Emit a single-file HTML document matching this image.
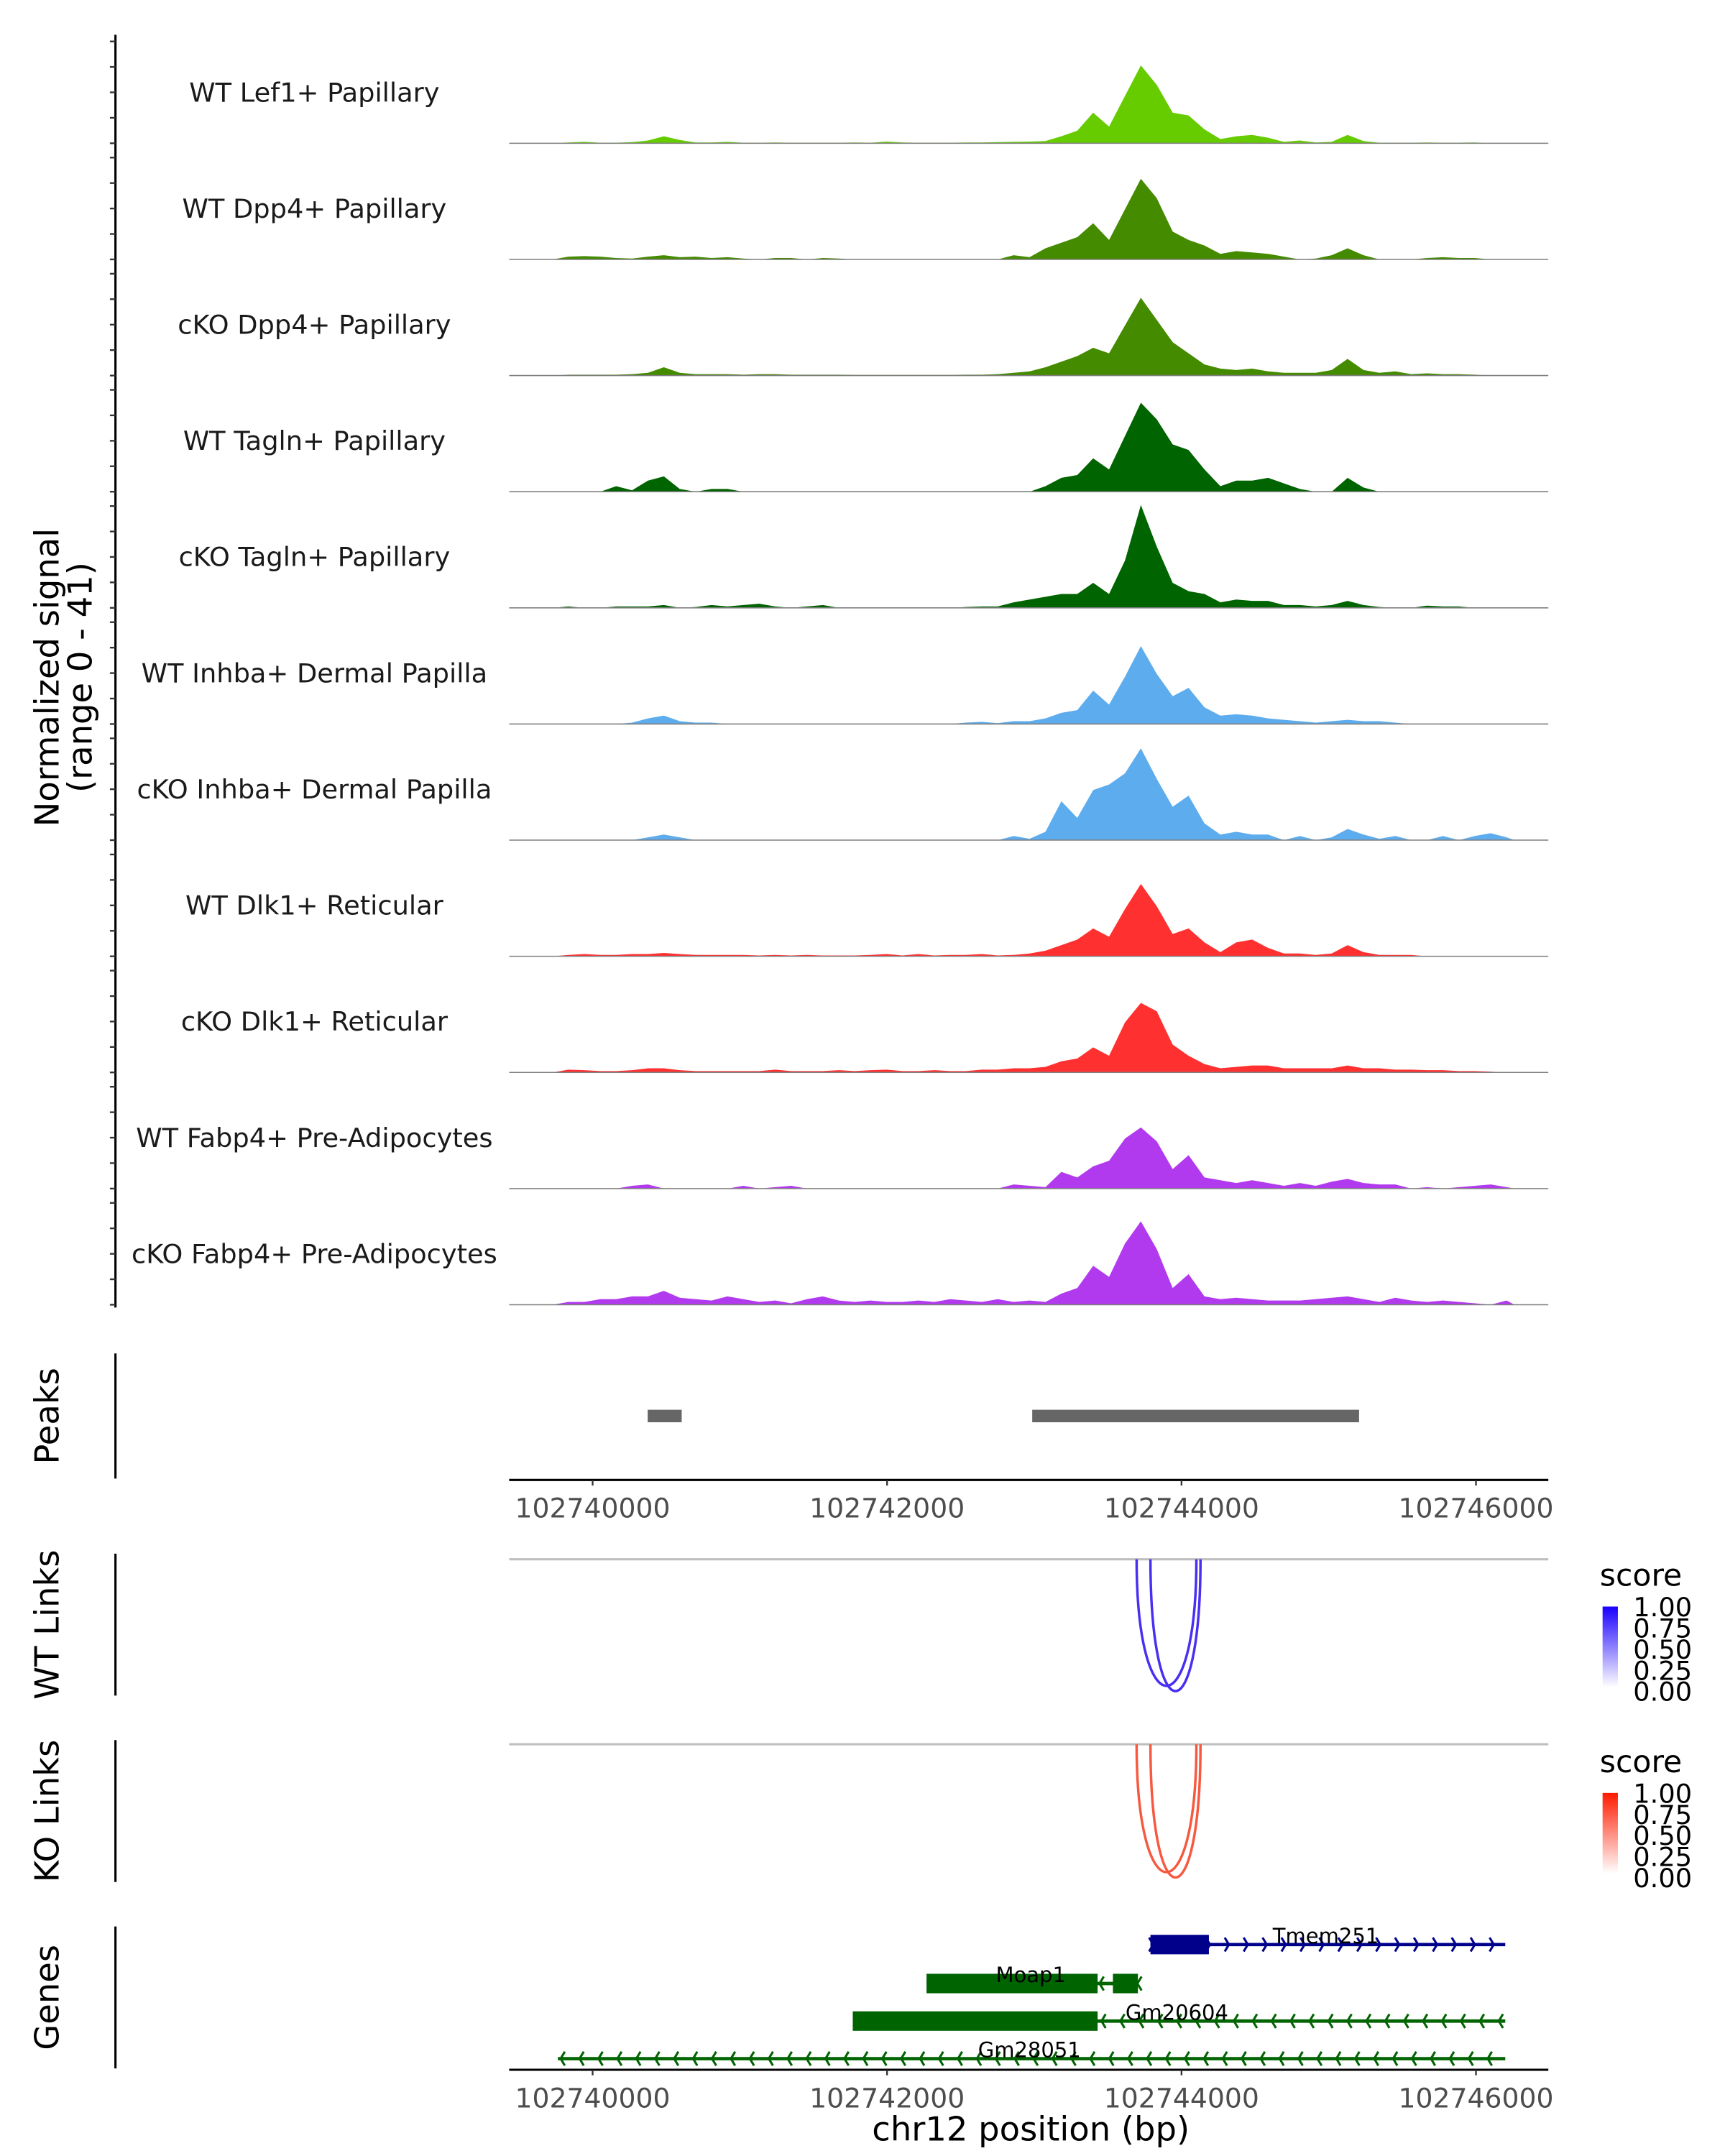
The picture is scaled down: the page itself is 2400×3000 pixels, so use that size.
<!DOCTYPE html>
<html><head><meta charset="utf-8">
<style>html,body{margin:0;padding:0;background:#fff}svg{display:block}text{font-family:"DejaVu Sans","Liberation Sans",sans-serif}</style>
</head><body>
<svg id="chart" xmlns="http://www.w3.org/2000/svg" width="2400" height="3000" viewBox="0 0 1240 1550">
<rect width="1240" height="1550" fill="#fff"/>
<g id="tracks"></g>
<g id="peaks"></g>
<g id="links"></g>
<g id="genes"></g>
<g id="axes"></g>
<text transform="translate(42,487) rotate(-90)" text-anchor="middle" font-size="24" fill="#000">Normalized signal</text>
<text transform="translate(66,487) rotate(-90)" text-anchor="middle" font-size="24" fill="#000">(range 0 - 41)</text>
<text transform="translate(42,1018) rotate(-90)" text-anchor="middle" font-size="24">Peaks</text>
<text transform="translate(42,1168) rotate(-90)" text-anchor="middle" font-size="24">WT Links</text>
<text transform="translate(42,1302) rotate(-90)" text-anchor="middle" font-size="24">KO Links</text>
<text transform="translate(42,1436) rotate(-90)" text-anchor="middle" font-size="24">Genes</text>
<text x="741" y="1539" text-anchor="middle" font-size="24">chr12 position (bp)</text>
</svg>
<script>
const NS="http://www.w3.org/2000/svg";
const binStart=102739242, binSize=108;
const trackNames=["WT Lef1+ Papillary","WT Dpp4+ Papillary","cKO Dpp4+ Papillary","WT Tagln+ Papillary","cKO Tagln+ Papillary","WT Inhba+ Dermal Papilla","cKO Inhba+ Dermal Papilla","WT Dlk1+ Reticular","cKO Dlk1+ Reticular","WT Fabp4+ Pre-Adipocytes","cKO Fabp4+ Pre-Adipocytes"];
const trackColors=["#66cc00","#458b00","#458b00","#006400","#006400","#5cacee","#5cacee","#ff3030","#ff3030","#b23aee","#b23aee"];
const lef1WT=[0,0,0,0,0,0.3,0.5,0.2,0.2,0.4,1,2.5,1.2,0.3,0.3,0.5,0.2,0.2,0.3,0.2,0.2,0.2,0.2,0.3,0.2,0.6,0.3,0.2,0.2,0.2,0.3,0.3,0.4,0.5,0.6,0.8,2.5,4.5,11,6,17,28,21,11,10,5,1.5,2.5,3,2,0.5,1,0.3,0.5,3,0.8,0.2,0.2,0.2,0.3,0.2,0.2,0.3,0,0];
const dpp4WT=[0,0,0,0,0,1,1.2,1,0.5,0.3,1,1.5,0.8,1,0.5,0.8,0.3,0,0.5,0.5,0,0.5,0.3,0,0,0,0,0,0,0,0,0,0,1.5,0.8,4,6,8,13,7,18,29,22,10,7,5,2,3,2.5,2,1,0,0.3,1.5,4,1.5,0,0,0,0.5,0.8,0.5,0.5,0,0];
const dpp4KO=[0,0,0,0,0,0.3,0.3,0.3,0.3,0.5,1,3,1,0.5,0.5,0.5,0.3,0.5,0.5,0.3,0.3,0.3,0.3,0.2,0.2,0.2,0.2,0.2,0.2,0.2,0.3,0.3,0.5,1,1.5,3,5,7,10,8,18,28,20,12,8,4,2.5,2,2.5,1.5,1,1,1,2,6,2,1,1.5,0.5,0.8,0.5,0.5,0.3,0,0];
const taglnWT=[0,0,0,0,0,0,0,0,2,0.5,4,5.5,1,0,1,1,0,0,0,0,0,0,0,0,0,0,0,0,0,0,0,0,0,0,0,2,5,6,12,8,20,32,26,17,15,8,2,4,4,5,3,1,0,0,5,1.5,0,0,0,0,0,0,0,0,0];
const taglnKO=[0,0,0,0,0,0.5,0,0,0.5,0.5,0.5,1,0,0.3,1,0.5,1,1.5,0.5,0,0.5,1,0,0,0,0,0,0,0,0,0.3,0.5,0.5,2,3,4,5,5,9,5,17,37,22,9,6,5,2,3,2.5,2.5,1,1,0.5,1,2.5,1,0.3,0,0,0.8,0.5,0.5,0,0,0];
const inhbaWT=[0,0,0,0,0,0,0,0,0,0.5,2,3,1,0.5,0.5,0,0,0,0,0,0,0,0,0,0,0,0,0,0,0,0.5,0.8,0.3,1,1,2,4,5,12,7,17,28,18,10,13,6,3,3.5,3,2,1.5,1,0.5,1,1.5,1,1,0.5,0,0,0,0,0,0,0];
const inhbaKO=[0,0,0,0,0,0,0,0,0,0,1,2,1,0,0,0,0,0,0,0,0,0,0,0,0,0,0,0,0,0,0,0,0,1.5,0.5,3,14,8,18,20,24,33,22,12,16,6,2,3,2,2,0,1.5,0,1,4,2,0.5,1.5,0,0,1.5,0,1.5,2.5,1];
const dlk1WT=[0,0,0,0,0,0.5,0.8,0.5,0.5,0.8,0.8,1.2,0.8,0.5,0.5,0.5,0.5,0.3,0.5,0.3,0.5,0.3,0.3,0.3,0.5,0.8,0.3,0.8,0.3,0.5,0.5,0.8,0.3,0.5,1,2,4,6,10,7,17,26,18,8,10,5,1.5,5,6,3,1,1,0.5,1,4,1.5,0.5,0.5,0.5,0,0,0,0,0,0];
const dlk1KO=[0,0,0,0,0,1,0.8,0.5,0.5,0.8,1.5,1.5,0.8,0.5,0.5,0.5,0.5,0.5,1,0.5,0.5,0.5,0.8,0.5,0.8,1,0.5,0.5,0.8,0.5,0.5,1,1,1.5,1.5,2,4,5,9,6,18,25,22,10,6,3,1.5,2,2.5,2.5,1.5,1.5,1.5,1.5,2.5,1.5,1.5,1,1,0.8,0.8,0.5,0.5,0.3,0];
const fabp4WT=[0,0,0,0,0,0,0,0,0,1,1.5,0,0,0,0,0,1,0,0.5,1,0,0,0,0,0,0,0,0,0,0,0,0,0,1.5,1,0.5,6,4,8,10,18,22,17,7,12,4,3,2,3,2,1,2,1,2.5,3.5,2,1.5,1.5,0,0.5,0,0.5,1,1.5,0.5];
const fabp4KO=[0,0,0,0,0,1,1,2,2,3,3,5,2.5,2,1.5,3,2,1,1.5,0.5,2,3,1.5,1,1.5,1,1,1.5,1,2,1.5,1,2,1,1.5,1,4,6,14,10,22,30,20,6,11,3,2,2.5,2,1.5,1.5,1.5,2,2.5,3,2,1,2.5,1.5,1,1.5,1,0.5,0,1.5];
const trackValues=[lef1WT,dpp4WT,dpp4KO,taglnWT,taglnKO,inhbaWT,inhbaKO,dlk1WT,dlk1KO,fabp4WT,fabp4KO];
const xTicks=[102740000,102742000,102744000,102746000];
const peakStarts=[102740374,102742986];
const peakEnds=[102740605,102745206];
const wtLinkStarts=[102743695,102743789];
const wtLinkEnds=[102744101,102744129];
const wtLinkScores=[0.85,0.85];
const koLinkStarts=[102743695,102743789];
const koLinkEnds=[102744101,102744129];
const koLinkScores=[0.85,0.85];
const geneNames=["Tmem251","Moap1","Gm20604","Gm28051"];
const geneStarts=[102743789,102742268,102741767,102739764];
const geneEnds=[102746199,102743704,102746199,102746199];
const geneStrands=["+","-","-","-"];
const exonStarts=[[102743789],[102742268,102743534],[102741767],[]];
const exonEnds=[[102744186],[102743430,102743704],[102743430],[]];
const legendLabels=["1.00","0.75","0.50","0.25","0.00"];

const X0=366,X1=1113;
function xs(bp){return 426+(bp-102740000)*0.10583;}
function ys(v,base){return base-v*2;}
function el(tag,attrs,parent){const e=document.createElementNS(NS,tag);for(const k in attrs)e.setAttribute(k,attrs[k]);if(parent)parent.appendChild(e);return e;}

const tracks=document.getElementById('tracks');
const axes=document.getElementById('axes');
let a=el('line',{x1:83,y1:25,x2:83,y2:940,stroke:'#000','stroke-width':1.6},axes);


trackValues.forEach((vals,t)=>{
  const base=103+t*83.5;
  const g=el('g',{},tracks);
  
  
  let d='M'+xs(binStart).toFixed(2)+','+base;
  vals.forEach((v,i)=>{d+=' L'+xs(binStart+binSize*(i+0.5)).toFixed(2)+','+ys(v,base).toFixed(2);});
  d+=' L'+xs(binStart+binSize*vals.length).toFixed(2)+','+base+' Z';
  const p=el('path',{d:d,fill:trackColors[t]},g);
  
  
  const bl=el('line',{x1:X0,x2:X1,y1:base,y2:base,stroke:'#7f7f7f','stroke-width':0.8},g);
  
  
  const lb=el('text',{x:226,y:base-30,'text-anchor':'middle','font-size':19,fill:'#1a1a1a'},g);
  lb.textContent=trackNames[t];
  
  
  for(let k=0;k<5;k++){
    const tk=el('line',{x1:79,x2:83,y1:base-k*18.3,y2:base-k*18.3,stroke:'#333','stroke-width':1.2},axes);
    
    
  }
});
[[973,1063],[1117,1219],[1251,1353],[1385,1487]].forEach(r=>{
  const l=el('line',{x1:83,x2:83,y1:r[0],y2:r[1],stroke:'#000','stroke-width':1.6},axes);
  
  
});
const peaks=document.getElementById('peaks');
peakStarts.forEach((s,i)=>{
  const r=el('rect',{x:xs(s),y:1013.5,width:xs(peakEnds[i])-xs(s),height:9,fill:'#666'},peaks);
  
  
});
function xAxis(y){
  const l=el('line',{x1:X0,x2:X1,y1:y,y2:y,stroke:'#000','stroke-width':1.6},axes);
  
  
  xTicks.forEach(t=>{
    const tk=el('line',{x1:xs(t),x2:xs(t),y1:y,y2:y+4,stroke:'#333','stroke-width':1.2},axes);
    
    
    const tx=el('text',{x:xs(t),y:y+27,'text-anchor':'middle','font-size':19.5,fill:'#4d4d4d'},axes);
    tx.textContent=t;
    
    
  });
}
xAxis(1064);xAxis(1488);
const links=document.getElementById('links');
function mix(c,s){return 'rgb('+c.map(v=>Math.round(255+(v-255)*s)).join(',')+')';}
function drawLinks(starts,ends,scores,top,bottom,col,name){
  const gl=el('line',{x1:X0,x2:X1,y1:top,y2:top,stroke:'#bfbfbf','stroke-width':1.6},links);
  
  
  starts.forEach((s,i)=>{
    const x1=xs(s),x2=xs(ends[i]);
    const depth=(bottom-top)*(0.96+0.04*i);
    const d='M'+x1+','+top+' C'+x1+','+(top+depth*1.33)+' '+x2+','+(top+depth*1.33)+' '+x2+','+top;
    const p=el('path',{d:d,fill:'none',stroke:mix(col,scores[i]),'stroke-width':1.8},links);
    
    
  });
}
drawLinks(wtLinkStarts,wtLinkEnds,wtLinkScores,1121,1216,[40,10,240],'wt-link');
drawLinks(koLinkStarts,koLinkEnds,koLinkScores,1254,1350,[245,60,30],'ko-link');
function legend(y0,col,id,name){
  const g=el('g',{},links);
  
  
  const defs=el('defs',{},g);
  const lg=el('linearGradient',{id:id,x1:0,y1:1,x2:0,y2:0},defs);
  el('stop',{offset:0,'stop-color':'#fff'},lg);
  el('stop',{offset:1,'stop-color':col},lg);
  const t=el('text',{x:1150,y:y0,'font-size':22},g);t.textContent='score';
  
  
  const r=el('rect',{x:1152,y:y0+15,width:11,height:58,fill:'url(#'+id+')'},g);
  
  
  legendLabels.forEach((lab,i)=>{
    const tx=el('text',{x:1174,y:y0+22+i*15.2,'font-size':19},g);
    tx.textContent=lab;
    
    
  });
}
legend(1140,'#1a00ff','gb','wt-score-legend');
legend(1274,'#ff1a00','gr','ko-score-legend');
const genes=document.getElementById('genes');
const rowY=[1398,1426,1453,1480];
const labelX=[953,741,846,740];
geneNames.forEach((n,i)=>{
  const y=rowY[i];const col=i===0?'#00008b':'#006400';
  const g=el('g',{},genes);
  
  
  const x1=xs(geneStarts[i]),x2=xs(geneEnds[i]);
  el('line',{x1:x1,x2:x2,y1:y,y2:y,stroke:col,'stroke-width':2.4},g);
  for(let x=x1+2;x<=x2;x+=13.6){
    const d=geneStrands[i]==='+'?('M'+(x-3)+','+(y-5)+' L'+x+','+y+' L'+(x-3)+','+(y+5)):('M'+(x+3)+','+(y-5)+' L'+x+','+y+' L'+(x+3)+','+(y+5));
    el('path',{d:d,fill:'none',stroke:col,'stroke-width':1.6},g);
  }
  exonStarts[i].forEach((s,j)=>{
    el('rect',{x:xs(s),y:y-7,width:xs(exonEnds[i][j])-xs(s),height:14,fill:col},g);
  });
  const t=el('text',{x:labelX[i],y:y-1,'text-anchor':'middle','font-size':15,fill:'#000'},g);
  t.textContent=n;
  
  
});
</script>
</body></html>
